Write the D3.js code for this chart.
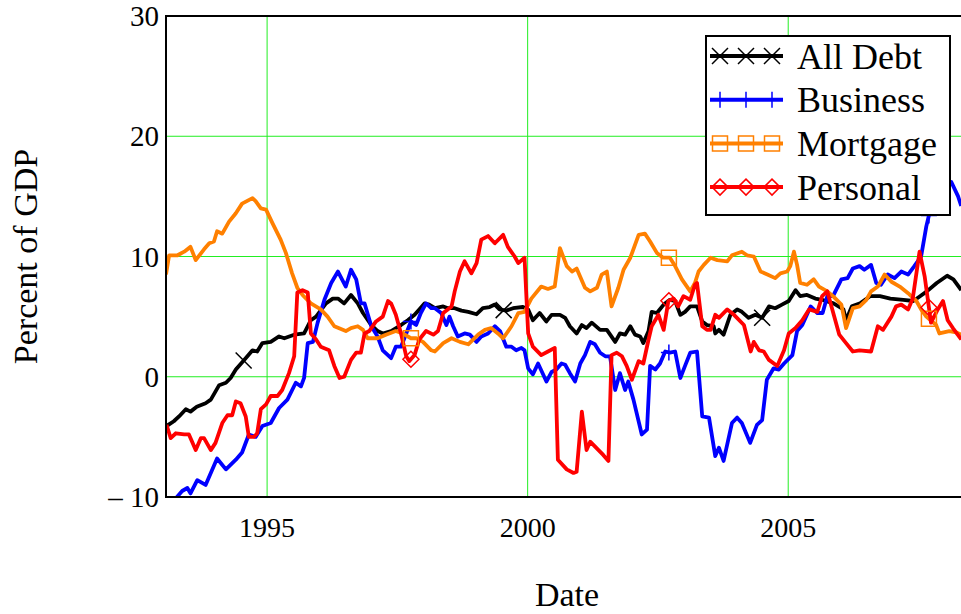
<!DOCTYPE html>
<html>
<head>
<meta charset="utf-8">
<script src="https://cdn.jsdelivr.net/npm/d3@7"></script>
<style>
  body { margin: 0; background: #fff; }
  svg { display: block; }
  text { font-family: "Liberation Serif", "Times New Roman", serif; fill: #000; }
</style>
</head>
<body>
<svg id="chart"></svg>
<script>
//series, [decimal year, percent of GDP]
var seriesNames = ["All Debt", "Business", "Mortgage", "Personal"]
var seriesColors = ["#000000", "#0000ff", "#ff8000", "#ff0000"]

var allDebt = [[1993.07,-4.1],[1993.21,-3.7],[1993.31,-3.3],[1993.44,-2.7],[1993.53,-2.9],[1993.65,-2.5],[1993.82,-2.2],[1993.92,-1.9],[1994.08,-0.7],[1994.21,-0.5],[1994.30,-0.1],[1994.40,0.6],[1994.56,1.4],[1994.72,2.2],[1994.81,2.1],[1994.91,2.8],[1995.07,2.9],[1995.23,3.35],[1995.33,3.2],[1995.52,3.5],[1995.71,3.6],[1995.84,4.7],[1995.94,5.0],[1996.13,6.1],[1996.26,6.5],[1996.36,6.5],[1996.48,6.1],[1996.61,6.8],[1996.74,6.1],[1996.84,5.3],[1997.00,4.3],[1997.12,3.8],[1997.22,3.6],[1997.38,3.8],[1997.57,4.3],[1997.70,4.7],[1997.83,5.15],[1997.92,5.6],[1998.02,6.1],[1998.11,6.0],[1998.22,5.7],[1998.38,5.85],[1998.47,5.7],[1998.60,5.7],[1998.73,5.5],[1998.86,5.4],[1999.02,5.2],[1999.14,5.7],[1999.27,5.8],[1999.37,6.0],[1999.46,5.6],[1999.59,5.5],[1999.72,5.7],[1999.91,5.8],[2000.01,5.6],[2000.10,4.7],[2000.23,5.3],[2000.36,4.6],[2000.46,5.15],[2000.62,5.15],[2000.72,4.9],[2000.81,4.2],[2000.94,3.6],[2001.04,4.3],[2001.13,4.05],[2001.23,4.5],[2001.39,3.9],[2001.52,3.9],[2001.68,2.9],[2001.77,3.6],[2001.87,3.5],[2001.97,4.2],[2002.06,3.5],[2002.16,3.35],[2002.22,2.8],[2002.32,3.8],[2002.38,5.4],[2002.48,5.3],[2002.61,6.0],[2002.73,6.4],[2002.83,6.3],[2002.93,5.15],[2003.02,5.4],[2003.12,5.85],[2003.25,5.85],[2003.35,4.6],[2003.44,4.3],[2003.57,4.2],[2003.60,3.6],[2003.67,3.9],[2003.76,3.5],[2003.89,5.15],[2004.02,5.6],[2004.11,5.4],[2004.24,4.9],[2004.37,5.15],[2004.50,4.9],[2004.63,5.85],[2004.75,5.7],[2004.88,6.0],[2005.01,6.3],[2005.14,7.2],[2005.23,6.7],[2005.36,6.8],[2005.52,6.5],[2005.65,6.4],[2005.87,6.1],[2006.06,5.6],[2006.11,4.7],[2006.22,5.85],[2006.38,6.1],[2006.57,6.7],[2006.76,6.7],[2006.96,6.5],[2007.21,6.4],[2007.40,6.3],[2007.53,6.7],[2007.66,7.1],[2007.85,7.8],[2008.05,8.4],[2008.17,8.1],[2008.32,7.2]]

var business = [[1993.06,-11.2],[1993.25,-10.1],[1993.37,-9.5],[1993.47,-9.25],[1993.53,-9.7],[1993.66,-8.6],[1993.82,-9.0],[1994.04,-6.8],[1994.21,-7.7],[1994.40,-6.9],[1994.52,-6.3],[1994.65,-4.8],[1994.78,-5.0],[1994.91,-4.1],[1995.07,-3.85],[1995.23,-2.6],[1995.39,-1.9],[1995.55,-0.5],[1995.65,-0.8],[1995.71,-0.1],[1995.78,2.8],[1995.88,2.9],[1995.97,4.5],[1996.10,6.4],[1996.23,7.8],[1996.36,8.75],[1996.51,7.5],[1996.61,8.9],[1996.71,8.1],[1996.80,6.1],[1996.87,6.1],[1997.00,4.2],[1997.12,3.35],[1997.22,2.2],[1997.38,1.55],[1997.47,2.5],[1997.57,2.5],[1997.67,3.6],[1997.76,4.6],[1997.86,4.3],[1997.95,5.3],[1998.05,6.1],[1998.15,5.7],[1998.22,5.7],[1998.34,5.3],[1998.44,4.3],[1998.50,5.0],[1998.57,4.2],[1998.66,3.35],[1998.79,3.6],[1998.89,3.5],[1999.02,2.9],[1999.11,3.35],[1999.24,3.6],[1999.37,4.2],[1999.47,3.8],[1999.59,2.5],[1999.69,2.5],[1999.78,2.2],[1999.88,2.4],[1999.94,2.2],[2000.01,0.7],[2000.10,0.2],[2000.20,1.1],[2000.36,-0.4],[2000.46,0.4],[2000.55,0.6],[2000.65,1.1],[2000.72,1.0],[2000.81,0.3],[2000.91,-0.4],[2001.01,1.1],[2001.10,1.8],[2001.20,2.9],[2001.29,2.7],[2001.39,2.0],[2001.49,1.7],[2001.58,1.7],[2001.68,-1.1],[2001.77,0.3],[2001.87,-1.1],[2001.93,-0.4],[2002.03,-1.9],[2002.19,-4.8],[2002.29,-4.4],[2002.35,0.9],[2002.45,0.6],[2002.54,1.1],[2002.64,2.1],[2002.73,2.0],[2002.83,2.1],[2002.93,-0.1],[2003.02,0.9],[2003.12,2.0],[2003.25,2.1],[2003.35,-3.3],[2003.48,-3.4],[2003.60,-6.6],[2003.67,-5.9],[2003.76,-7.0],[2003.92,-3.85],[2004.02,-3.4],[2004.11,-3.85],[2004.27,-5.5],[2004.40,-4.0],[2004.50,-3.6],[2004.59,-0.25],[2004.72,0.7],[2004.82,0.6],[2004.92,1.1],[2005.08,1.8],[2005.17,3.8],[2005.27,4.3],[2005.43,5.85],[2005.56,5.3],[2005.66,5.3],[2005.75,6.7],[2005.86,6.7],[2006.02,8.1],[2006.14,8.2],[2006.24,9.0],[2006.37,9.2],[2006.46,8.9],[2006.59,9.3],[2006.69,7.8],[2006.78,7.65],[2006.91,8.5],[2007.04,8.2],[2007.17,8.75],[2007.30,8.5],[2007.42,9.2],[2007.55,10.0],[2007.65,12.5],[2007.71,13.6],[2007.92,15.5],[2008.13,16.2],[2008.26,15.0],[2008.32,14.2]]

var mortgage = [[1993.06,8.5],[1993.12,10.1],[1993.28,10.1],[1993.41,10.4],[1993.53,10.8],[1993.63,9.7],[1993.79,10.6],[1993.89,11.1],[1993.98,11.25],[1994.04,12.1],[1994.14,11.9],[1994.27,12.9],[1994.40,13.6],[1994.52,14.4],[1994.72,14.85],[1994.78,14.6],[1994.88,14.0],[1994.98,13.9],[1995.10,12.8],[1995.26,11.4],[1995.36,10.3],[1995.48,8.6],[1995.58,7.4],[1995.68,6.8],[1995.84,6.1],[1996.03,5.6],[1996.16,5.0],[1996.29,4.2],[1996.51,3.8],[1996.61,4.05],[1996.74,4.2],[1996.84,3.9],[1996.93,3.2],[1997.12,3.2],[1997.28,3.5],[1997.47,3.8],[1997.60,3.6],[1997.76,3.2],[1997.86,3.2],[1997.99,2.9],[1998.15,2.2],[1998.22,2.1],[1998.38,2.8],[1998.54,3.2],[1998.70,2.9],[1998.86,2.7],[1999.05,3.5],[1999.18,3.9],[1999.30,4.05],[1999.43,3.6],[1999.53,3.2],[1999.69,4.2],[1999.82,5.3],[1999.94,5.4],[2000.07,6.5],[2000.26,7.5],[2000.39,7.3],[2000.52,7.5],[2000.62,10.7],[2000.75,9.2],[2000.85,8.75],[2000.94,9.0],[2001.10,7.4],[2001.20,7.1],[2001.33,7.4],[2001.42,8.5],[2001.52,8.75],[2001.61,5.85],[2001.74,7.4],[2001.84,8.9],[2001.97,9.9],[2002.13,11.8],[2002.25,11.9],[2002.35,11.25],[2002.48,10.3],[2002.60,9.9],[2002.73,9.9],[2002.83,9.2],[2002.96,8.1],[2003.12,7.1],[2003.21,7.8],[2003.28,8.75],[2003.38,9.3],[2003.51,9.9],[2003.64,9.7],[2003.83,9.6],[2003.92,10.1],[2004.11,10.4],[2004.21,10.1],[2004.34,10.0],[2004.47,8.75],[2004.60,8.5],[2004.75,8.2],[2004.85,8.6],[2004.98,8.75],[2005.04,9.2],[2005.11,10.4],[2005.17,9.3],[2005.23,7.8],[2005.36,7.65],[2005.49,8.1],[2005.59,7.5],[2005.75,7.1],[2005.86,6.7],[2006.02,6.0],[2006.11,4.05],[2006.24,5.7],[2006.37,5.85],[2006.50,6.4],[2006.59,7.1],[2006.72,7.5],[2006.85,8.5],[2006.98,7.9],[2007.14,7.5],[2007.30,6.95],[2007.46,6.3],[2007.55,5.6],[2007.65,5.0],[2007.84,4.3],[2007.90,3.6],[2008.09,3.8],[2008.22,3.7],[2008.32,3.5]]

var personal = [[1993.07,-4.0],[1993.15,-5.1],[1993.25,-4.7],[1993.41,-4.8],[1993.50,-4.8],[1993.63,-6.1],[1993.73,-5.1],[1993.79,-5.1],[1993.92,-6.1],[1994.01,-5.5],[1994.14,-3.85],[1994.24,-3.2],[1994.33,-3.2],[1994.40,-2.05],[1994.49,-2.2],[1994.59,-3.3],[1994.65,-5.0],[1994.75,-5.0],[1994.81,-4.7],[1994.88,-2.7],[1994.98,-2.3],[1995.07,-1.6],[1995.20,-1.6],[1995.29,-1.1],[1995.42,0.3],[1995.52,1.7],[1995.58,7.0],[1995.68,7.2],[1995.78,7.0],[1995.84,3.6],[1995.94,3.1],[1996.03,2.5],[1996.19,2.2],[1996.29,0.9],[1996.39,-0.1],[1996.48,0.0],[1996.61,1.4],[1996.71,2.0],[1996.80,2.0],[1996.87,3.6],[1996.96,3.8],[1997.09,4.6],[1997.22,5.0],[1997.32,6.3],[1997.38,6.1],[1997.47,5.15],[1997.57,3.6],[1997.67,1.7],[1997.73,1.3],[1997.83,1.8],[1997.92,3.1],[1998.05,3.8],[1998.19,3.5],[1998.28,3.8],[1998.38,5.3],[1998.54,5.85],[1998.60,7.1],[1998.70,8.75],[1998.79,9.6],[1998.92,8.6],[1999.02,9.45],[1999.11,11.4],[1999.24,11.7],[1999.37,11.1],[1999.53,11.8],[1999.62,10.8],[1999.75,10.0],[1999.82,9.45],[1999.94,9.9],[2000.01,3.6],[2000.10,2.5],[2000.26,1.8],[2000.39,2.1],[2000.52,2.4],[2000.58,-6.9],[2000.75,-7.7],[2000.88,-8.0],[2000.94,-7.9],[2001.04,-2.9],[2001.13,-6.1],[2001.20,-5.4],[2001.36,-6.1],[2001.45,-6.5],[2001.55,-7.0],[2001.61,1.8],[2001.71,2.0],[2001.81,1.7],[2001.90,0.9],[2002.00,-0.25],[2002.13,1.3],[2002.22,1.1],[2002.32,3.1],[2002.38,4.2],[2002.51,5.15],[2002.61,3.9],[2002.70,6.3],[2002.80,6.5],[2002.89,5.85],[2002.99,6.7],[2003.12,6.4],[2003.21,7.65],[2003.25,7.8],[2003.35,4.2],[2003.44,3.9],[2003.51,3.9],[2003.60,5.15],[2003.67,4.9],[2003.83,5.6],[2003.96,5.15],[2004.15,4.3],[2004.28,2.1],[2004.34,2.9],[2004.44,2.2],[2004.53,2.1],[2004.63,1.4],[2004.79,0.9],[2004.92,2.2],[2005.01,3.6],[2005.14,4.05],[2005.27,4.7],[2005.40,5.6],[2005.56,5.4],[2005.65,6.7],[2005.75,7.1],[2005.83,5.85],[2005.98,3.5],[2006.11,2.8],[2006.24,2.1],[2006.37,2.2],[2006.59,2.1],[2006.72,4.2],[2006.82,3.9],[2006.98,5.0],[2007.07,5.85],[2007.17,6.0],[2007.30,5.6],[2007.39,6.5],[2007.52,10.4],[2007.62,8.3],[2007.74,4.5],[2007.87,5.6],[2007.97,6.3],[2008.06,4.7],[2008.16,4.05],[2008.32,3.1]]

//marker dates
var allDebtMarks = [1994.55, 1999.54, 2004.5]
var otherMarks = [1997.76, 2002.71, 2007.70]

//ticks
var xTicks = [1995, 2000, 2005]
var yTicks = [-10, 0, 10, 20, 30]
var yTickLabels = ["\u2013 10", "0", "10", "20", "30"]
var xLabel = "Date"
var yLabel = "Percent of GDP"

var dimensions = {
  width: 961,
  height: 614,
  margin: { top: 16, bottom: 117, left: 166, right: -7 }
}

var svg = d3.select("#chart")
  .attr("width", dimensions.width)
  .attr("height", dimensions.height)

var xScale = d3.scaleLinear()
  .domain([1993.06, 2008.45])
  .range([dimensions.margin.left, dimensions.width - dimensions.margin.right])

var yScale = d3.scaleLinear()
  .domain([-10, 30])
  .range([dimensions.height - dimensions.margin.bottom, dimensions.margin.top])

var x0 = xScale.range()[0], x1 = xScale.range()[1]
var yTop = yScale.range()[1], yBot = yScale.range()[0]

svg.append("defs").append("clipPath").attr("id", "plotclip")
  .append("rect")
  .attr("x", x0).attr("y", yTop)
  .attr("width", x1 - x0).attr("height", yBot - yTop)

//grid
var gridColor = "#22ee22"
svg.append("g").selectAll("line")
  .data(xTicks).enter().append("line")
  .attr("x1", d => xScale(d)).attr("x2", d => xScale(d))
  .attr("y1", yTop).attr("y2", yBot)
  .attr("stroke", gridColor).attr("stroke-width", 1)
svg.append("g").selectAll("line")
  .data(yTicks.slice(1, -1)).enter().append("line")
  .attr("x1", x0).attr("x2", x1)
  .attr("y1", d => yScale(d)).attr("y2", d => yScale(d))
  .attr("stroke", gridColor).attr("stroke-width", 1)

//lines
var series = [allDebt, business, mortgage, personal]
var line = d3.line().x(d => xScale(d[0])).y(d => yScale(d[1]))

var plot = svg.append("g").attr("clip-path", "url(#plotclip)")
plot.selectAll(".series")
  .data(series).enter().append("path")
  .attr("class", "series")
  .attr("d", line)
  .attr("fill", "none")
  .attr("stroke", (d, i) => seriesColors[i])
  .attr("stroke-width", 3.8)
  .attr("stroke-linejoin", "round")

//markers
var markerPaths = [
  "M-8,-8L8,8M-8,8L8,-8",
  "M-8,0H8M0,-8V8",
  "M-7.5,-7.5H7.5V7.5H-7.5Z",
  "M0,-8L8,0L0,8L-8,0Z"
]

function valueAt(s, t) {
  var i = d3.bisector(d => d[0]).left(s, t)
  if (i <= 0) return s[0][1]
  if (i >= s.length) return s[s.length - 1][1]
  var a = s[i - 1], b = s[i]
  return a[1] + (b[1] - a[1]) * (t - a[0]) / (b[0] - a[0])
}

series.forEach(function(s, i) {
  var dates = i == 0 ? allDebtMarks : otherMarks
  plot.append("g").selectAll("path")
    .data(dates).enter().append("path")
    .attr("transform", d => `translate(${xScale(d)},${yScale(valueAt(s, d))})`)
    .attr("d", markerPaths[i])
    .attr("fill", "none")
    .attr("stroke", seriesColors[i])
    .attr("stroke-width", 1.5)
})

//frame
var frame = svg.append("g").attr("stroke", "#000").attr("stroke-width", 2)
frame.append("line").attr("x1", x0).attr("x2", x0).attr("y1", yTop - 1).attr("y2", yBot + 1)
frame.append("line").attr("x1", x0).attr("x2", x1).attr("y1", yTop).attr("y2", yTop)
frame.append("line").attr("x1", x0).attr("x2", x1).attr("y1", yBot).attr("y2", yBot)

//tick labels
svg.append("g").selectAll("text")
  .data(yTicks).enter().append("text")
  .attr("x", x0 - 7)
  .attr("y", d => yScale(d))
  .attr("dy", "0.35em")
  .attr("text-anchor", "end")
  .attr("font-size", 29)
  .text((d, i) => yTickLabels[i])

svg.append("g").selectAll("text")
  .data(xTicks).enter().append("text")
  .attr("x", d => xScale(d))
  .attr("y", yBot + 40)
  .attr("text-anchor", "middle")
  .attr("font-size", 28)
  .text(d => d)

//axis titles
svg.append("text")
  .attr("x", (x0 + x1) / 2)
  .attr("y", 606)
  .attr("text-anchor", "middle")
  .attr("font-size", 34)
  .text(xLabel)

svg.append("text")
  .attr("transform", `translate(37,${(yTop + yBot) / 2}) rotate(-90)`)
  .attr("text-anchor", "middle")
  .attr("font-size", 34)
  .text(yLabel)

//legend
var legend = svg.append("g").attr("transform", "translate(706,36)")
legend.append("rect")
  .attr("width", 244).attr("height", 179)
  .attr("fill", "#fff").attr("stroke", "#000").attr("stroke-width", 2)

var item = legend.selectAll(".item")
  .data(seriesNames).enter().append("g")
  .attr("class", "item")
  .attr("transform", (d, i) => `translate(0,${20 + i * 43.7})`)

item.append("line")
  .attr("x1", 4).attr("x2", 77)
  .attr("stroke", (d, i) => seriesColors[i])
  .attr("stroke-width", 4)

item.each(function(d, i) {
  d3.select(this).selectAll("path")
    .data([14, 40, 66]).enter().append("path")
    .attr("transform", p => `translate(${p},0)`)
    .attr("d", markerPaths[i])
    .attr("fill", "none")
    .attr("stroke", seriesColors[i])
    .attr("stroke-width", 1.5)
})

item.append("text")
  .attr("x", 91)
  .attr("dy", "0.35em")
  .attr("font-size", 36)
  .text(d => d)
</script>
</body>
</html>
